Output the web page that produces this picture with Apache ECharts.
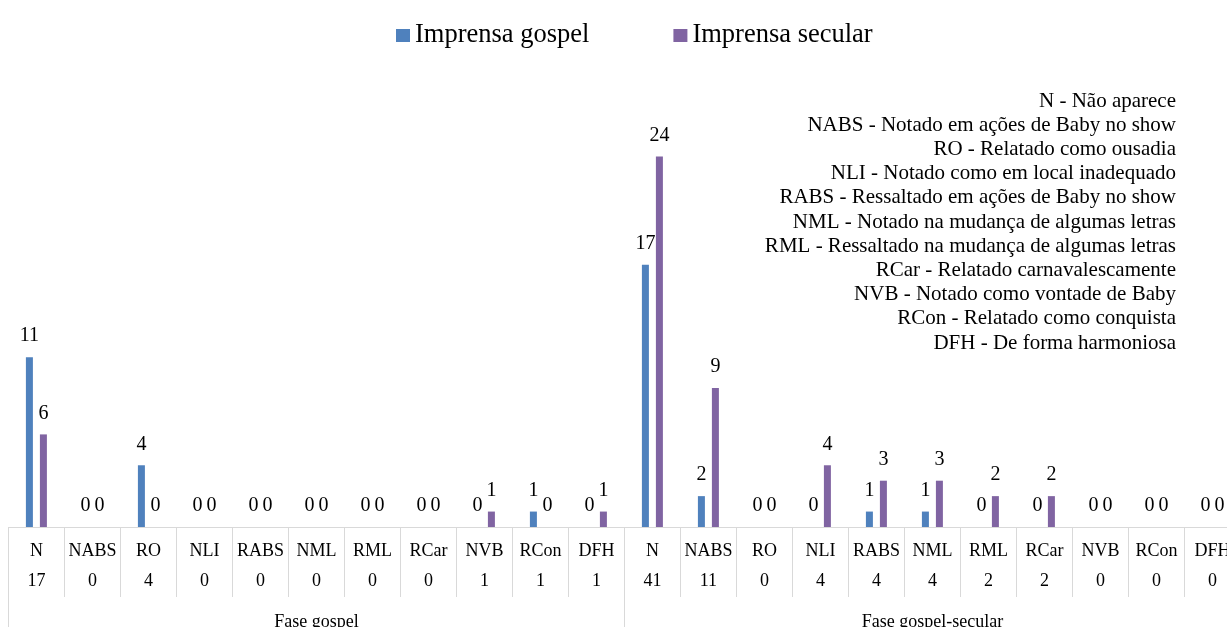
<!DOCTYPE html>
<html>
<head>
<meta charset="utf-8">
<script src="https://cdn.jsdelivr.net/npm/echarts@6/dist/echarts.min.js"></script>
<style>
  html, body { margin: 0; padding: 0; background: #fff; }
  #chart { width: 1227px; height: 627px; }
</style>
</head>
<body>
<div id="chart"></div>
<script>
// Coding categories repeated in each phase
const categories = ['N', 'NABS', 'RO', 'NLI', 'RABS', 'NML', 'RML', 'RCar', 'NVB', 'RCon', 'DFH'];
const phases = ['Fase gospel', 'Fase gospel-secular'];

// Counts per category, phase 1 followed by phase 2
const gospel  = [11, 0, 4, 0, 0, 0, 0, 0, 0, 1, 0,   17, 2, 0, 0, 1, 1, 0, 0, 0, 0, 0];
const secular = [6, 0, 0, 0, 0, 0, 0, 0, 1, 0, 1,    24, 9, 0, 4, 3, 3, 2, 2, 0, 0, 0];

const seriesNames = ['Imprensa gospel', 'Imprensa secular'];

// Key for the abbreviations
const keyLines = [
  'N - Não aparece',
  'NABS - Notado em ações de Baby no show',
  'RO - Relatado como ousadia',
  'NLI - Notado como em local inadequado',
  'RABS - Ressaltado em ações de Baby no show',
  'NML - Notado na mudança de algumas letras',
  'RML - Ressaltado na mudança de algumas letras',
  'RCar - Relatado carnavalescamente',
  'NVB - Notado como vontade de Baby',
  'RCon - Relatado como conquista',
  'DFH - De forma harmoniosa'
];

const serif = "'Liberation Serif', 'Times New Roman', serif";
const gridLine = '#d9d9d9';

const axisKeys = [];
phases.forEach(p => categories.forEach(c => axisKeys.push(p + ':' + c)));
const totals = gospel.map((g, i) => g + secular[i]);

const chart = echarts.init(document.getElementById('chart'), null, { renderer: 'canvas' });

chart.setOption({
  animation: false,
  backgroundColor: '#ffffff',
  legend: {
    left: 391,
    top: 17,
    itemWidth: 14,
    itemHeight: 13,
    itemGap: 84,
    icon: 'rect',
    data: seriesNames,
    textStyle: { fontFamily: serif, fontSize: 26.5, color: '#000' }
  },
  // the plot runs past the right edge of the canvas, so the last column is clipped
  grid: { left: 8.4, width: 1232, top: 64, bottom: 100, containLabel: false, outerBoundsMode: 'none' },
  xAxis: [
    {
      type: 'category',
      position: 'bottom',
      data: axisKeys,
      boundaryGap: true,
      axisLine: { show: true, lineStyle: { color: gridLine, width: 1 } },
      axisTick: { show: true, interval: 0, length: 70, lineStyle: { color: gridLine, width: 1 } },
      axisLabel: {
        interval: 0,
        margin: 9,
        hideOverlap: false,
        formatter: (v, i) => '{n|' + categories[i % categories.length] + '}\n{t|' + totals[i] + '}',
        rich: {
          n: { fontFamily: serif, fontSize: 18, color: '#000', lineHeight: 30 },
          t: { fontFamily: serif, fontSize: 18, color: '#000', lineHeight: 31 }
        }
      }
    },
    {
      type: 'category',
      position: 'bottom',
      data: phases,
      boundaryGap: true,
      axisLine: { show: false },
      axisTick: { show: true, interval: 0, length: 100, lineStyle: { color: gridLine, width: 1 } },
      axisLabel: {
        interval: 0,
        margin: 86,
        fontFamily: serif,
        fontSize: 18,
        lineHeight: 18,
        color: '#000'
      }
    }
  ],
  yAxis: {
    type: 'value',
    min: 0,
    max: 30,
    show: false,
    splitLine: { show: false }
  },
  series: [
    {
      name: seriesNames[0],
      type: 'bar',
      xAxisIndex: 0,
      data: gospel,
      barWidth: 7,
      barGap: '100%',
      itemStyle: { color: '#4f81bd' },
      label: { show: true, position: 'top', distance: 11, fontFamily: serif, fontSize: 20, color: '#000' }
    },
    {
      name: seriesNames[1],
      type: 'bar',
      xAxisIndex: 0,
      data: secular,
      barWidth: 7,
      barGap: '100%',
      itemStyle: { color: '#8064a2' },
      label: { show: true, position: 'top', distance: 11, fontFamily: serif, fontSize: 20, color: '#000' }
    }
  ],
  graphic: [
    {
      type: 'text',
      x: 1176,
      y: 89,
      style: {
        text: keyLines.join('\n'),
        fontFamily: serif,
        fontSize: 21,
        lineHeight: 24.2,
        fill: '#000',
        align: 'right',
        verticalAlign: 'top'
      }
    }
  ]
});
</script>
</body>
</html>
